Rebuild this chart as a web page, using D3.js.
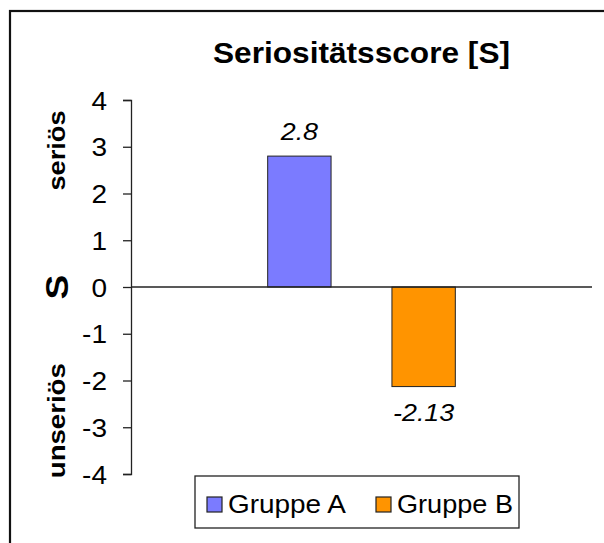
<!DOCTYPE html>
<html><head><meta charset="utf-8">
<script src="https://cdn.jsdelivr.net/npm/d3@7"></script>
<style>
html,body{margin:0;padding:0;background:#fff;}
svg{display:block;font-family:"Liberation Sans",Arial,sans-serif;}
</style></head>
<body>
<svg id="c" width="604" height="543"></svg>
<script>
const title = "Seriositätsscore [S]";
const seriesNames = ["Gruppe A", "Gruppe B"];
const seriesValues = [2.8, -2.13];
const valueLabels = ["2.8", "-2.13"];
const seriesColors = ["#7b7bff", "#ff9400"];
const yTicks = [-4, -3, -2, -1, 0, 1, 2, 3, 4];
const yTickLabels = ["-4", "-3", "-2", "-1", "0", "1", "2", "3", "4"];
const yTitle = "S";
const upperLabel = "seriös";
const lowerLabel = "unseriös";

const svg = d3.select("#c");
const plot = {left: 131, right: 592, top: 100, bottom: 474};
const SX = 1.12; // horizontal glyph stretch of the original rendering

// outer frame
svg.append("rect").attr("x", 10).attr("y", 11).attr("width", 640).attr("height", 600)
  .attr("fill", "none").attr("stroke", "#111").attr("stroke-width", 2.2);

const y = d3.scaleLinear().domain([-4, 4]).range([plot.bottom, plot.top]);
const x = d3.scaleBand().domain(seriesNames).range([plot.left, plot.right])
  .paddingInner(0.49).paddingOuter(1.1);

// title
svg.append("text").attr("x", (plot.left + plot.right) / 2).attr("y", 63)
  .attr("text-anchor", "middle").attr("font-weight", "bold").attr("font-size", 30)
  .attr("textLength", 297).attr("lengthAdjust", "spacingAndGlyphs")
  .attr("fill", "#000").text(title);

// y axis
const yAxis = d3.axisLeft(y).tickValues(yTicks).tickSize(8)
  .tickFormat((d, i) => yTickLabels[i]);
const gy = svg.append("g").attr("transform", `translate(${plot.left},0)`).call(yAxis);
gy.select(".domain").attr("stroke", "#222").attr("stroke-width", 1.3);
gy.selectAll(".tick line").attr("stroke", "#222").attr("stroke-width", 1.3);
gy.selectAll(".tick text").attr("font-size", 25).attr("fill", "#000")
  .attr("font-family", "'Liberation Sans',Arial,sans-serif")
  .attr("x", null).attr("dy", "0.36em")
  .attr("transform", `translate(-24,0) scale(${SX},1)`);

// axis titles
svg.append("text").attr("transform", `translate(68,${y(0)}) rotate(-90) scale(1.2,1)`)
  .attr("text-anchor", "middle").attr("font-weight", "bold").attr("font-size", 31)
  .text(yTitle);
svg.append("text").attr("transform", `translate(65,${y(2.92)}) rotate(-90)`)
  .attr("text-anchor", "middle").attr("font-weight", "bold").attr("font-size", 24)
  .attr("textLength", 80).attr("lengthAdjust", "spacingAndGlyphs")
  .text(upperLabel);
svg.append("text").attr("transform", `translate(65,${y(-2.86)}) rotate(-90)`)
  .attr("text-anchor", "middle").attr("font-weight", "bold").attr("font-size", 24)
  .attr("textLength", 115).attr("lengthAdjust", "spacingAndGlyphs")
  .text(lowerLabel);

// bars
const data = seriesNames.map((n, i) => ({name: n, value: seriesValues[i], label: valueLabels[i], color: seriesColors[i]}));
svg.selectAll("rect.bar").data(data).join("rect").attr("class", "bar")
  .attr("x", d => x(d.name)).attr("width", x.bandwidth())
  .attr("y", d => y(Math.max(0, d.value)))
  .attr("height", d => Math.abs(y(d.value) - y(0)))
  .attr("fill", d => d.color).attr("stroke", "#222").attr("stroke-width", 1);

// zero line
svg.append("line").attr("x1", plot.left).attr("x2", plot.right)
  .attr("y1", y(0)).attr("y2", y(0)).attr("stroke", "#222").attr("stroke-width", 1.3);

// value labels
svg.selectAll("text.val").data(data).join("text").attr("class", "val")
  .attr("transform", d => `translate(${x(d.name) + x.bandwidth() / 2},${d.value >= 0 ? y(d.value) - 16 : y(d.value) + 34}) scale(1.12,1)`)
  .attr("text-anchor", "middle").attr("font-style", "italic").attr("font-size", 24)
  .text(d => d.label);

// legend
const lg = svg.append("g");
lg.append("rect").attr("x", 195).attr("y", 476).attr("width", 324).attr("height", 52)
  .attr("fill", "#fff").attr("stroke", "#222").attr("stroke-width", 1.3);
const legX = [207, 376];
const legItems = lg.selectAll("g.item").data(data).join("g").attr("class", "item")
  .attr("transform", (d, i) => `translate(${legX[i]},497)`);
legItems.append("rect").attr("width", 15).attr("height", 15)
  .attr("fill", d => d.color).attr("stroke", "#222").attr("stroke-width", 1.2);
legItems.append("text").attr("x", 21).attr("y", 15.5).attr("font-size", 25)
  .attr("textLength", (d, i) => i === 0 ? 118 : 116).attr("lengthAdjust", "spacingAndGlyphs")
  .text(d => d.name);
</script>
</body></html>
